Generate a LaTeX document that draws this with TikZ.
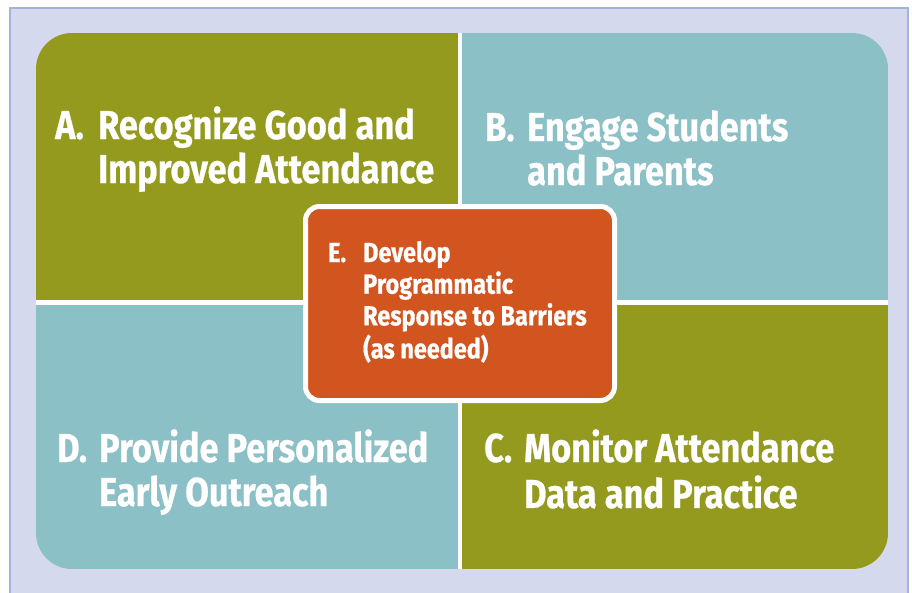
\documentclass[tikz,border=0pt]{standalone}
\usepackage{fontspec}
\setmainfont{Fira Sans}[FakeStretch=0.85, BoldFeatures={FakeBold=0.6}]
\definecolor{olive}{HTML}{949A1D}
\definecolor{teal}{HTML}{8AC0C6}
\definecolor{rust}{HTML}{D2541E}
\definecolor{lav}{HTML}{D5D9EE}
\definecolor{lavborder}{HTML}{A5B2DC}
\tikzset{
  bigtxt/.style={inner sep=0pt, anchor=base west, text=white, font=\bfseries\fontsize{40.4}{44}\selectfont},
  smalltxt/.style={inner sep=0pt, anchor=base west, text=white, font=\bfseries\fontsize{27.6}{31}\selectfont},
  divider/.style={white, line width=4.5pt},
}
\begin{document}
\begin{tikzpicture}[x=1pt,y=-1pt]
\useasboundingbox (0,0) rectangle (912,592);
\fill[white] (0,0) rectangle (912,592);
\draw[lavborder, fill=lav, line width=2pt] (9.5,7.5) rectangle (907.5,620);
\begin{scope}
  \clip[rounded corners=36pt] (36,33) rectangle (888,569);
  \fill[olive] (36,33) rectangle (460,303);
  \fill[teal] (460,33) rectangle (888,303);
  \fill[teal] (36,303) rectangle (460,569);
  \fill[olive] (460,303) rectangle (888,569);
  \coordinate (vt) at (460,33);
  \coordinate (vb) at (460,569);
  \coordinate (hl) at (36,302.5);
  \coordinate (hr) at (888,302.5);
  \draw[divider] (vt) -- (vb);
  \draw[divider] (hl) -- (hr);
\end{scope}
\node[bigtxt] (a) at (55,139) {\begin{tabular}[t]{@{}l@{}l@{}}\makebox[43pt][l]{A.} & Recognize Good and\\ & Improved Attendance\end{tabular}};
\node[bigtxt] (b) at (485,141) {\begin{tabular}[t]{@{}l@{}l@{}}\makebox[42pt][l]{B.} & Engage Students\\ & and Parents\end{tabular}};
\node[bigtxt] (d) at (57,462) {\begin{tabular}[t]{@{}l@{}l@{}}\makebox[42pt][l]{D.} & Provide Personalized\\ & Early Outreach\end{tabular}};
\node[bigtxt] (c) at (484,462) {\begin{tabular}[t]{@{}l@{}l@{}}\makebox[40pt][l]{C.} & Monitor Attendance\\ & Data and Practice\end{tabular}};
\draw[white, fill=rust, line width=5pt, rounded corners=14pt] (305.5,206.5) rectangle (614.5,400.5);
\node[smalltxt] (e) at (328,262) {\begin{tabular}[t]{@{}l@{}l@{}}\makebox[35pt][l]{E.} & Develop\\ & Programmatic\\ & Response to Barriers\\ & (as needed)\end{tabular}};
\end{tikzpicture}
\end{document}
